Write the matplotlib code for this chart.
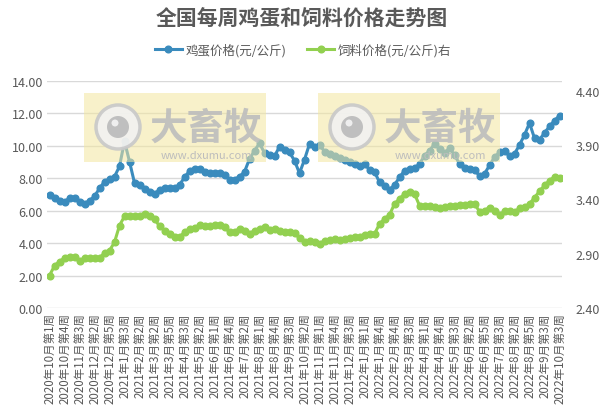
import numpy as np
import matplotlib
matplotlib.use("Agg")
import matplotlib.pyplot as plt
from matplotlib.patches import Rectangle, Ellipse

plt.rcParams['font.family'] = ['Noto Sans CJK SC', 'DejaVu Sans']

# weekly egg price (left axis), yuan/kg
egg = [6.97, 6.77, 6.62, 6.56, 6.77, 6.79, 6.52, 6.44, 6.62, 6.89,
       7.38, 7.79, 7.96, 8.10, 8.74, 10.28, 9.03, 7.71, 7.59, 7.36,
       7.18, 7.03, 7.30, 7.42, 7.42, 7.42, 7.59, 8.06, 8.45, 8.58,
       8.58, 8.37, 8.33, 8.33, 8.33, 8.20, 7.92, 7.92, 8.10, 8.40,
       9.19, 9.70, 10.16, 9.56, 9.44, 9.36, 9.95, 9.77, 9.60, 9.09,
       8.31, 9.15, 10.12, 9.91, 10.06, 9.65, 9.50, 9.40, 9.23, 9.15,
       9.03, 8.88, 8.74, 8.88, 8.53, 8.41, 7.75, 7.55, 7.30, 7.59,
       8.06, 8.47, 8.58, 8.62, 8.88, 9.40, 9.70, 10.12, 9.81, 9.56,
       9.85, 9.45, 8.88, 8.62, 8.58, 8.53, 8.14, 8.27, 8.80, 9.30,
       9.60, 9.70, 9.36, 9.50, 10.06, 10.67, 11.41, 10.47, 10.38, 10.80,
       11.20, 11.56, 11.86]

# weekly feed price (right axis), yuan/kg
feed = [2.698, 2.790, 2.827, 2.861, 2.873, 2.873, 2.836, 2.858, 2.861, 2.861,
        2.861, 2.907, 2.928, 3.006, 3.159, 3.245, 3.245, 3.245, 3.245, 3.265,
        3.245, 3.220, 3.153, 3.113, 3.082, 3.052, 3.052, 3.098, 3.128, 3.135,
        3.165, 3.159, 3.159, 3.165, 3.165, 3.144, 3.098, 3.104, 3.128, 3.113,
        3.082, 3.113, 3.128, 3.144, 3.122, 3.128, 3.113, 3.104, 3.098, 3.091,
        3.042, 3.006, 3.020, 3.006, 2.990, 3.020, 3.030, 3.036, 3.030, 3.036,
        3.042, 3.052, 3.057, 3.073, 3.082, 3.082, 3.174, 3.220, 3.257, 3.359,
        3.405, 3.451, 3.472, 3.451, 3.343, 3.343, 3.337, 3.334, 3.325, 3.334,
        3.343, 3.343, 3.349, 3.349, 3.359, 3.359, 3.288, 3.297, 3.325, 3.290,
        3.257, 3.290, 3.290, 3.282, 3.319, 3.328, 3.359, 3.415, 3.476, 3.528,
        3.573, 3.607, 3.595]

# shown category labels (every third week)
tick_labels = ['2020年10月第1周', '2020年10月第4周', '2020年11月第3周', '2020年12月第2周',
               '2020年12月第5周', '2021年1月第3周', '2021年2月第2周', '2021年3月第2周',
               '2021年3月第5周', '2021年4月第3周', '2021年5月第2周', '2021年6月第1周',
               '2021年6月第4周', '2021年7月第2周', '2021年8月第1周', '2021年8月第4周',
               '2021年9月第3周', '2021年10月第2周', '2021年11月第1周', '2021年11月第4周',
               '2021年12月第3周', '2022年1月第1周', '2022年1月第4周', '2022年2月第4周',
               '2022年3月第3周', '2022年4月第1周', '2022年4月第4周', '2022年5月第3周',
               '2022年6月第2周', '2022年6月第5周', '2022年7月第3周', '2022年8月第2周',
               '2022年8月第5周', '2022年9月第3周', '2022年10月第3周']

blue = '#3a8bbd'
green = '#92d050'
grey = '#595959'

W, H = 603, 414
fig = plt.figure(figsize=(W / 100, H / 100), dpi=100)
ax = fig.add_axes([47 / W, 1 - 309 / H, (562 - 47) / W, (309 - 82) / H])
ax2 = ax.twinx()

x = np.arange(len(egg))
ax.plot(x, egg, color=blue, lw=2.2, marker='o', ms=4.8, zorder=3, label='鸡蛋价格(元/公斤)')
ax2.plot(x, feed, color=green, lw=2.2, marker='o', ms=4.8, zorder=3, label='饲料价格(元/公斤)右')

ax.set_xlim(-0.5, len(egg) - 0.5)
ax.set_ylim(0, 14)
ax.set_yticks(np.arange(0, 15, 2))
ax.set_yticklabels(['%.2f' % v for v in np.arange(0, 15, 2)])
ax2.set_ylim(2.4, 4.49)
ax2.set_yticks([2.4, 2.9, 3.4, 3.9, 4.4])
ax2.set_yticklabels(['2.40', '2.90', '3.40', '3.90', '4.40'])

ax.set_xticks(x[::3])
ax.set_xticklabels(tick_labels, rotation=90, fontsize=8.3, color=grey)
ax.grid(axis='y', color='#d9d9d9', lw=1)
ax.set_axisbelow(True)
for a in (ax, ax2):
    for s in a.spines.values():
        s.set_visible(False)
ax.tick_params(axis='x', length=0, pad=3)
ax.tick_params(axis='y', length=0, pad=3, labelsize=9, labelcolor=grey)
ax2.tick_params(axis='y', length=0, pad=10, labelsize=9, labelcolor=grey)

fig.text(0.5, 1 - 18 / H, '全国每周鸡蛋和饲料价格走势图', ha='center', va='center',
         fontsize=15, fontweight='bold', color=grey)

h1, l1 = ax.get_legend_handles_labels()
h2, l2 = ax2.get_legend_handles_labels()
fig.legend(h1 + h2, l1 + l2, loc='center', bbox_to_anchor=(303 / W, 1 - 51 / H), ncol=2,
           frameon=False, fontsize=9, labelcolor=grey, handlelength=2.2,
           columnspacing=1.6, handletextpad=0.3)

# watermarks
for x0 in (84, 318):
    fig.add_artist(Rectangle((x0 / W, 1 - 163 / H), 182 / W, 69 / H, transform=fig.transFigure,
                             facecolor='#f3e7a0', alpha=0.55, edgecolor='none', zorder=10))
    cx, cy = x0 + 34, 128
    fig.add_artist(Ellipse((cx / W, 1 - cy / H), 44 / W, 44 / H, transform=fig.transFigure,
                           facecolor='#f2f2f2', edgecolor='#c8c8c8', lw=2.5, alpha=0.9, zorder=11))
    fig.add_artist(Ellipse((cx / W, 1 - cy / H), 22 / W, 22 / H, transform=fig.transFigure,
                           facecolor='#bdbdbd', edgecolor='none', alpha=0.95, zorder=12))
    fig.add_artist(Ellipse(((cx - 3) / W, 1 - (cy - 4) / H), 7 / W, 7 / H, transform=fig.transFigure,
                           facecolor='#eeeeee', edgecolor='none', zorder=13))
    fig.text((x0 + 122) / W, 1 - 128 / H, '大畜牧', ha='center', va='center', fontsize=27,
             fontweight='bold', color='#bdbdbd', alpha=0.9, zorder=12)
    fig.text((x0 + 122) / W, 1 - 156 / H, 'www.dxumu.com', ha='center', va='center', fontsize=8,
             color='#bdbdbd', zorder=12)

fig.savefig('out.png', dpi=100)
